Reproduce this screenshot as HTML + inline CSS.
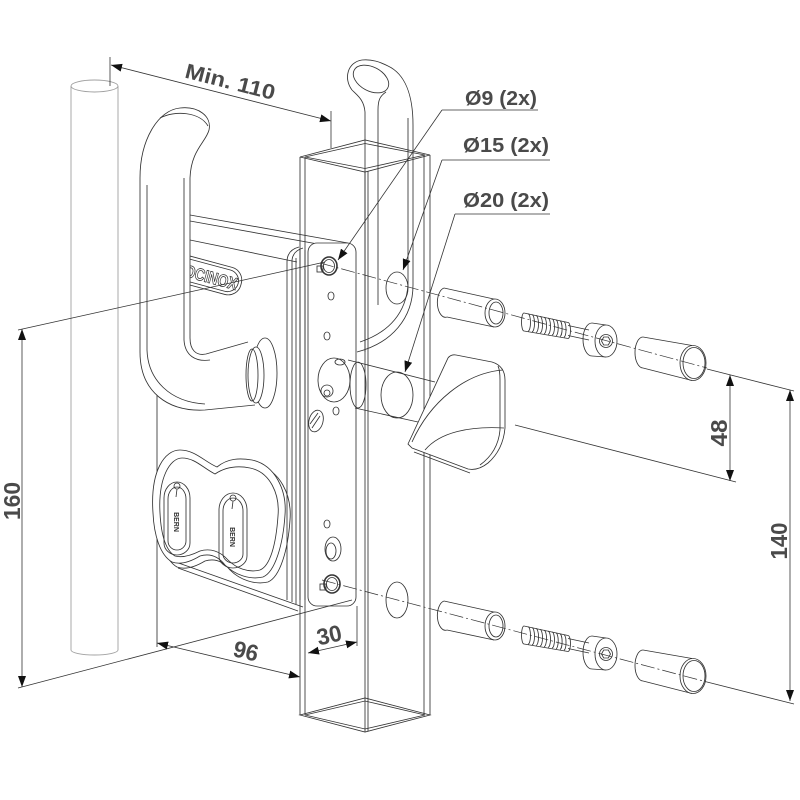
<!DOCTYPE html>
<html><head><meta charset="utf-8"><style>
html,body{margin:0;padding:0;background:#fff;}
svg{display:block;}
text{font-family:"Liberation Sans",sans-serif;font-weight:bold;fill:#4a4a4a;}
</style></head><body>
<svg width="800" height="800" viewBox="0 0 800 800" xmlns="http://www.w3.org/2000/svg">
<defs>
<marker id="ar" markerUnits="userSpaceOnUse" markerWidth="11" markerHeight="8" refX="11" refY="4" orient="auto-start-reverse"><path d="M0,0 L11,4 L0,8 z" fill="#111"/></marker>
</defs>
<rect width="800" height="800" fill="#fff"/>

<!-- Post -->
<g fill="none" stroke="#a0a0a0" stroke-width="0.9">
<ellipse cx="94.5" cy="86" rx="23.5" ry="6"/>
<line x1="71" y1="86" x2="71" y2="650"/>
<line x1="118" y1="86" x2="118" y2="650"/>
<path d="M71,650 A23.5,5 0 0 0 118,650"/>
</g>

<g fill="none" stroke="#333" stroke-width="0.85">
<!-- right handle (behind tube) -->
<path d="M352,90 C343,78 348,62 362,60 C372,59 380,62 388,66 C405,74 413,95 413,125 L413,285 C413,318 392,343 357,352"/>
<path d="M408,118 L408,285 C406,312 390,332 360,342"/>
<ellipse cx="371" cy="79" rx="19" ry="12" transform="rotate(28 371 79)"/>
<path d="M352,90 C358,96 364,100 365,112 L365,352"/>
<path d="M386,92 C380,96 378,100 378,110 L378,305"/>

<!-- Square tube -->
<polygon points="300,157 365,140 430,155 365,172"/>
<polygon points="305,157 365,143.5 425,155 365,168.5"/>
<line x1="300" y1="157" x2="300" y2="715"/>
<line x1="305" y1="157" x2="305" y2="715"/>
<line x1="365" y1="172" x2="365" y2="732"/>
<line x1="368" y1="171" x2="368" y2="731"/>
<line x1="430" y1="155" x2="430" y2="715"/>
<line x1="424" y1="155" x2="424" y2="715"/>
<polygon points="300,715 365,732 430,715 365,698"/>
<polygon points="305,715 365,729 425,715 365,701"/>

<!-- tube holes -->
<ellipse cx="397" cy="288" rx="11" ry="16"/>
<ellipse cx="397" cy="600" rx="11" ry="18"/>

<!-- lock body -->
<line x1="190" y1="215" x2="348" y2="243"/>
<line x1="190" y1="221" x2="340" y2="248"/>
<line x1="190" y1="240" x2="297" y2="262"/>
<path d="M287,600 L287,262 Q287,250 299,247"/>
<path d="M292,602 L292,260 Q293,251 303,248"/>
<path d="M296,604 L296,258"/>
<line x1="157" y1="385" x2="157" y2="647"/>
<line x1="170" y1="560" x2="303" y2="607"/>
<line x1="178" y1="568" x2="298" y2="611"/>

<!-- faceplate -->
<rect x="308" y="243" width="48" height="363" rx="9" fill="#fff"/>
<line x1="305" y1="250" x2="305" y2="600"/>
<line x1="300" y1="250" x2="300" y2="600"/>

<!-- logo -->
<g transform="rotate(15 214 277)">
<rect x="172" y="263" width="70" height="28" rx="13"/>
<rect x="175" y="266" width="64" height="22" rx="11"/>
<text x="207" y="284" font-size="17" text-anchor="middle" textLength="62" lengthAdjust="spacingAndGlyphs" style="fill:#fff;stroke:#333;stroke-width:0.8">LOCINOX</text>
</g>

<!-- escutcheon plate -->
<path d="M158,517 C155,474 170,455 185,455 C200,455 210,467 222,472 C233,463 245,463 257,465 C280,470 292,495 290,520 C288,550 280,577 268,582 C255,585 240,580 230,570 C223,561 215,558 205,561 C195,567 185,570 177,567 C165,560 159,540 158,517 Z"/>
<path d="M153,513 C150,470 165,450 180,450 C195,450 205,462 217,467 C228,458 240,458 252,460 C275,465 287,490 285,515 C283,545 275,572 263,577 C250,580 235,575 225,565 C218,556 210,553 200,556 C190,562 180,565 172,562 C160,555 154,535 153,513 Z" fill="#fff"/>
<path d="M160,513 C158,478 170,458 182,458 C195,458 203,468 215,474 C227,466 240,466 250,468 C270,472 280,494 278,516 C276,545 270,566 260,570 C248,573 236,568 228,560 C220,551 210,548 200,551 C190,556 182,558 175,556 C165,550 161,533 160,513 Z"/>
<!-- keyways -->
<path d="M164,498 A13,16 0 1 1 190,498 L190,543 A13,12 0 0 1 164,543 Z"/>
<path d="M168,499 A9,12 0 1 1 186,499 L186,541 A9,9 0 0 1 168,541 Z"/>
<circle cx="177" cy="486" r="3"/><line x1="177" y1="489" x2="176" y2="497"/>
<path d="M219,510 A14,17 0 1 1 247,510 L247,556 A14,12 0 0 1 219,556 Z"/>
<path d="M223,511 A10,13 0 1 1 243,511 L243,554 A10,9 0 0 1 223,554 Z"/>
<circle cx="233" cy="498" r="3"/><line x1="233" y1="501" x2="232" y2="509"/>

<!-- faceplate holes -->
<ellipse cx="329" cy="266" rx="8" ry="9" stroke-width="1.6"/>
<ellipse cx="329" cy="266" rx="5.5" ry="6.5"/>
<rect x="317" y="266" width="6" height="6"/>
<ellipse cx="331" cy="296" rx="3" ry="4"/>
<ellipse cx="327" cy="336" rx="3" ry="4"/>
<ellipse cx="336" cy="411" rx="3" ry="4"/>
<ellipse cx="327" cy="524" rx="3" ry="4"/>
<ellipse cx="316" cy="421" rx="7" ry="11" transform="rotate(15 316 421)"/>
<path d="M312,428 L320,416 M310,424 L318,413"/>
<ellipse cx="333" cy="549" rx="8" ry="12"/>
<ellipse cx="331" cy="551" rx="5" ry="8"/>
<ellipse cx="332" cy="584" rx="8" ry="9" stroke-width="1.6"/>
<ellipse cx="332" cy="584" rx="5.5" ry="6.5"/>
<rect x="320" y="584" width="6" height="6"/>

<!-- hub & shaft -->
<ellipse cx="334" cy="380" rx="16" ry="22" fill="#fff"/>
<ellipse cx="340" cy="362" rx="5" ry="3"/>
<circle cx="327" cy="391" r="6"/><circle cx="327" cy="393" r="3"/>
<path d="M348,360 L435,382"/>
<path d="M355,408 L418,422"/>
<ellipse cx="358" cy="385" rx="8" ry="23"/>
<ellipse cx="397" cy="395" rx="16" ry="23"/>

<!-- thumb turn knob -->
<path d="M408,444 L448,358 Q451,354 456,355 L492,362 Q505,366 505,380 L505,428 Q503,450 488,463 Q478,471 468,469 L412,448 Z" fill="#fff"/>
<path d="M498,366 Q500,370 500,380 L500,430 Q498,452 480,465"/>
<path d="M412,442 C430,402 465,373 503,370"/>
<path d="M425,450 C440,432 470,426 504,428"/>
<path d="M414,452 L470,473"/>

<!-- left handle -->
<path d="M255,405 L205,410 C168,412 140,392 140,352 L140,178 C140,140 158,110 180,108 C198,106 212,116 209,130 C206,142 191,150 190,178 L190,338 C190,350 196,356 206,354 L248,342 Z" fill="#fff" stroke="none"/>
<path d="M255,405 L205,410 C168,412 140,392 140,352 L140,178 C140,140 158,110 180,108 C198,106 212,116 209,130 C206,142 191,150 190,178 L190,338 C190,350 196,356 206,354 L248,342"/>
<path d="M147,185 L147,350 C148,380 170,402 205,404"/>
<path d="M184,178 L184,340 C185,356 196,362 210,360"/>
<path d="M160,118 C175,110 200,112 208,126"/>
<ellipse cx="265" cy="373" rx="12" ry="35" fill="#fff"/>
<ellipse cx="256" cy="375" rx="8" ry="28" fill="#fff"/>
<ellipse cx="252" cy="375" rx="6" ry="26"/>

<!-- exploded parts top row -->
<g id="row">
<path d="M444,288 A8,14.5 0 0 0 447,317"/>
<line x1="444" y1="288" x2="496" y2="299.5"/>
<line x1="447" y1="317" x2="494" y2="327"/>
<ellipse cx="495" cy="313" rx="10" ry="14" fill="#fff"/>
<ellipse cx="496" cy="313" rx="7" ry="11"/>
<line x1="524" y1="313" x2="568" y2="322.5"/>
<line x1="524" y1="331" x2="568" y2="338.5"/>
<path d="M524,313 A2.5,9 0 0 0 524,331 M528,313.8 A2.5,8.7 0 0 1 528,331.2 M532,314.7 A2.5,8.5 0 0 1 532,331.8 M536,315.6 A2.5,8.3 0 0 1 536,332.4 M540,316.5 A2.5,8.2 0 0 1 540,333 M544,317.3 A2.5,8.1 0 0 1 544,333.7 M548,318.2 A2.5,8 0 0 1 548,334.3 M552,319 A2.5,8 0 0 1 552,335 M556,319.9 A2.5,8 0 0 1 556,335.8 M560,320.8 A2.5,8 0 0 1 560,336.6 M564,321.7 A2.5,8 0 0 1 564,337.4 M568,322.5 A2.5,8 0 0 1 568,338.5"/>
<line x1="568" y1="325.5" x2="589" y2="330"/>
<line x1="568" y1="335.5" x2="589" y2="340"/>
<path d="M592,323 A9,16.5 0 0 0 592,356"/>
<line x1="592" y1="323" x2="606" y2="325"/>
<line x1="592" y1="356" x2="606" y2="357"/>
<ellipse cx="606" cy="341" rx="11" ry="16" fill="#fff"/>
<circle cx="606" cy="341" r="6.5"/>
<polygon points="610.5,341 608.3,345 603.7,345 601.5,341 603.7,337 608.3,337"/>
<path d="M643,337 A8,15.5 0 0 0 643,368"/>
<line x1="643" y1="337" x2="692" y2="345.5"/>
<line x1="643" y1="368" x2="692" y2="380.5"/>
<ellipse cx="693" cy="363" rx="13" ry="17.5" fill="#fff"/>
<ellipse cx="694" cy="363" rx="11" ry="15.5"/>
</g>
<use href="#row" transform="translate(0,313)"/>
</g>

<!-- axis dash-dot lines -->
<g stroke="#333" stroke-width="0.7" fill="none" stroke-dasharray="14,3,2,3">
<line x1="320" y1="263" x2="707" y2="368"/>
<line x1="322" y1="580" x2="707" y2="682"/>
</g>

<!-- dimension & extension lines -->
<g stroke="#333" stroke-width="0.8" fill="none">
<line x1="110" y1="57" x2="110" y2="86"/>
<line x1="331" y1="111" x2="331" y2="148"/>
<line x1="111" y1="65" x2="331" y2="121" marker-start="url(#ar)" marker-end="url(#ar)"/>
<line x1="18" y1="330" x2="325" y2="262"/>
<line x1="18" y1="688" x2="352" y2="600"/>
<line x1="22" y1="329" x2="22" y2="687" marker-start="url(#ar)" marker-end="url(#ar)"/>
<line x1="157" y1="643" x2="300" y2="677" marker-start="url(#ar)" marker-end="url(#ar)"/>
<line x1="357" y1="606" x2="357" y2="646"/>
<line x1="308" y1="653" x2="357" y2="642" marker-start="url(#ar)" marker-end="url(#ar)"/>
<line x1="707" y1="369" x2="794" y2="391"/>
<line x1="515" y1="425" x2="736" y2="482"/>
<line x1="707" y1="682" x2="794" y2="704"/>
<line x1="730" y1="375" x2="730" y2="481" marker-start="url(#ar)" marker-end="url(#ar)"/>
<line x1="790" y1="390" x2="790" y2="701" marker-start="url(#ar)" marker-end="url(#ar)"/>
<!-- leaders -->
<line x1="442" y1="110" x2="338" y2="260" marker-end="url(#ar)"/>
<line x1="442" y1="110" x2="538" y2="110"/>
<line x1="442" y1="160" x2="403" y2="270" marker-end="url(#ar)"/>
<line x1="442" y1="160" x2="550" y2="160"/>
<line x1="455" y1="214" x2="405" y2="372" marker-end="url(#ar)"/>
<line x1="455" y1="214" x2="550" y2="214"/>
</g>

<!-- texts -->
<text x="465" y="105" font-size="20" textLength="72" lengthAdjust="spacingAndGlyphs">Ø9 (2x)</text>
<text x="463" y="152" font-size="20" textLength="86" lengthAdjust="spacingAndGlyphs">Ø15 (2x)</text>
<text x="463" y="207" font-size="20" textLength="86" lengthAdjust="spacingAndGlyphs">Ø20 (2x)</text>
<g transform="translate(227,94.5) rotate(14.3)"><text x="0" y="-6" font-size="21" text-anchor="middle" textLength="92" lengthAdjust="spacingAndGlyphs">Min. 110</text></g>
<g transform="translate(243,663.6) rotate(13.5)"><text x="0" y="-5" font-size="23" text-anchor="middle" textLength="25" lengthAdjust="spacingAndGlyphs">96</text></g>
<g transform="translate(332,647.6) rotate(-12.7)"><text x="0" y="-5" font-size="23" text-anchor="middle" textLength="25" lengthAdjust="spacingAndGlyphs">30</text></g>
<g transform="translate(727,433) rotate(-90)"><text x="0" y="0" font-size="23" text-anchor="middle" textLength="27" lengthAdjust="spacingAndGlyphs">48</text></g>
<g transform="translate(787,541) rotate(-90)"><text x="0" y="0" font-size="23" text-anchor="middle" textLength="37" lengthAdjust="spacingAndGlyphs">140</text></g>
<g transform="translate(20,501) rotate(-90)"><text x="0" y="0" font-size="23" text-anchor="middle" textLength="38" lengthAdjust="spacingAndGlyphs">160</text></g>
<g transform="translate(174,522) rotate(90)"><text x="0" y="0" font-size="7" text-anchor="middle" style="fill:#333">BERN</text></g>
<g transform="translate(230,537) rotate(90)"><text x="0" y="0" font-size="7" text-anchor="middle" style="fill:#333">BERN</text></g>
</svg>
</body></html>
